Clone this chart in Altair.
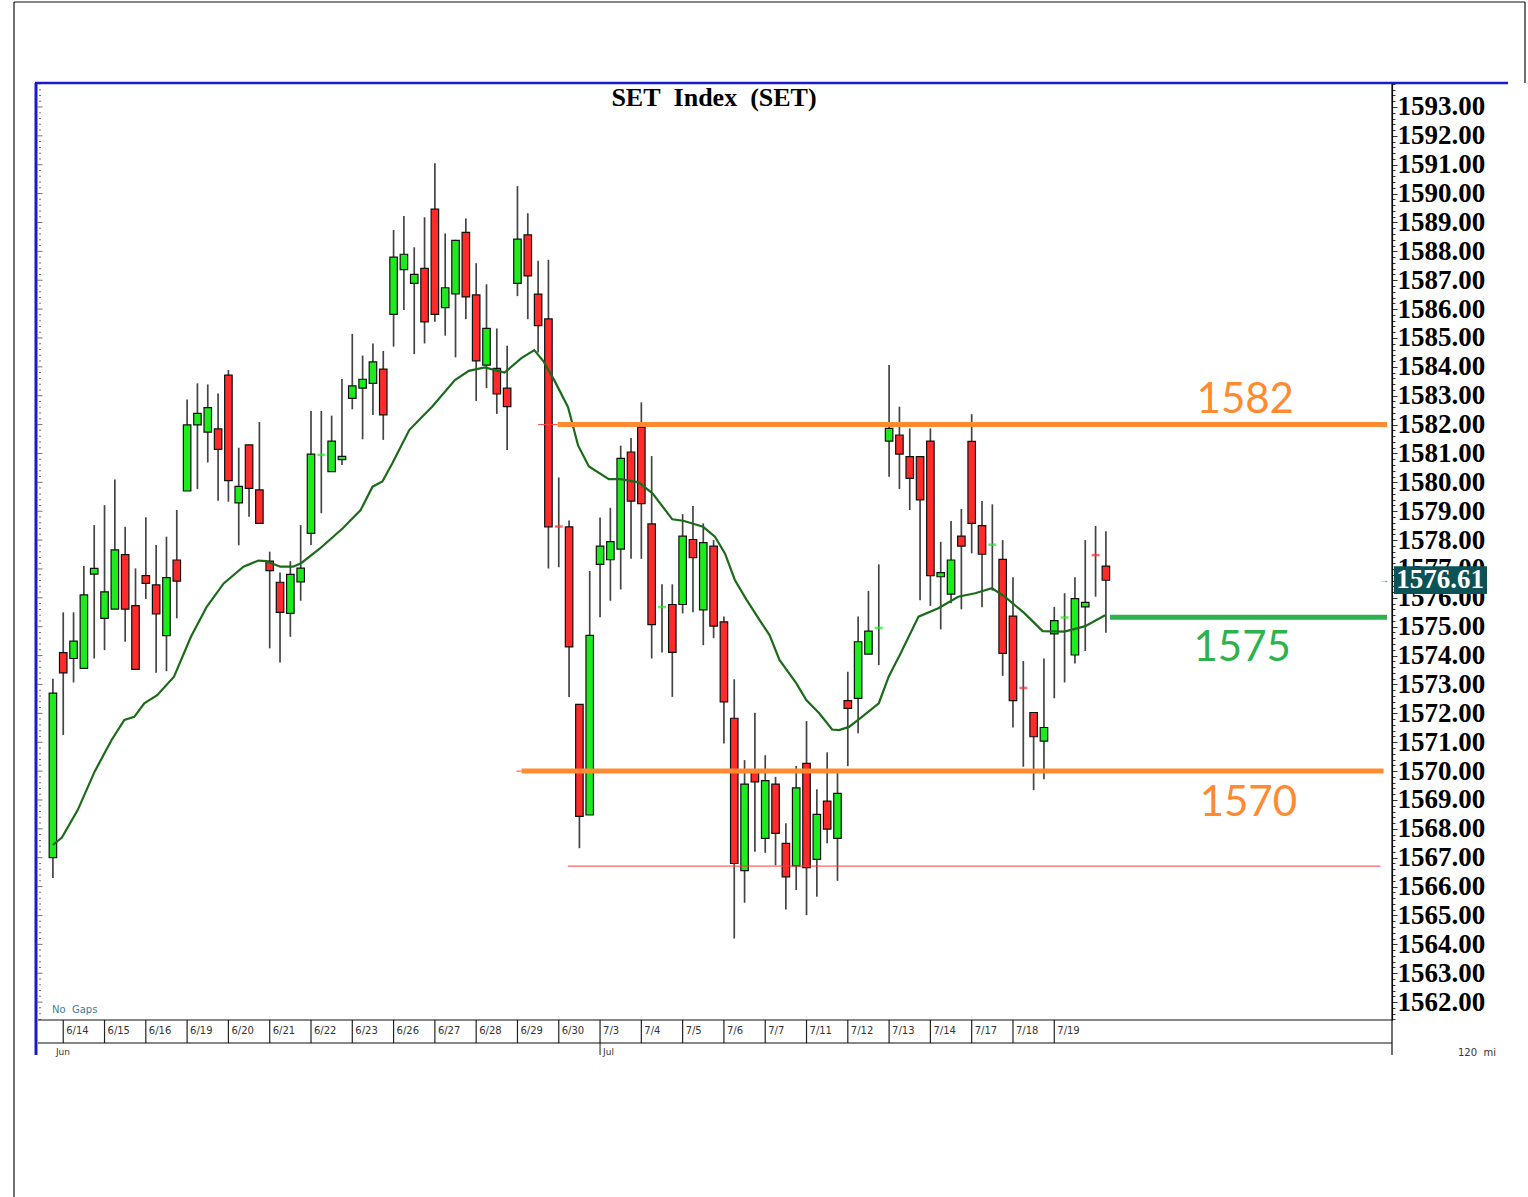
import altair as alt
import pandas as pd

# ---------------- data ----------------
opens = [1567.00, 1574.10, 1573.90, 1573.56, 1576.82, 1575.29, 1575.61, 1577.50, 1575.73, 1576.77,
         1576.45, 1574.69, 1577.31, 1579.70, 1581.99, 1581.74, 1581.85, 1583.71, 1579.29, 1581.30,
         1579.74, 1577.27, 1576.54, 1575.46, 1576.55, 1578.23, 1580.90, 1580.37, 1580.79, 1582.91,
         1583.26, 1583.43, 1583.92, 1585.82, 1587.37, 1586.89, 1587.41, 1589.46, 1586.05, 1586.53,
         1588.66, 1586.49, 1584.06, 1583.95, 1583.26, 1586.89, 1588.57, 1586.52, 1585.66, 1578.55,
         1578.46, 1572.31, 1568.48, 1577.16, 1577.32, 1577.69, 1581.05, 1581.90, 1578.56, 1575.64,
         1575.77, 1575.77, 1578.02, 1575.58, 1577.79, 1575.17, 1571.83, 1566.55, 1569.96, 1567.67,
         1569.55, 1567.50, 1566.72, 1570.27, 1566.94, 1568.96, 1567.67, 1572.44, 1572.52, 1574.05,
         1574.92, 1581.43, 1581.64, 1580.89, 1580.89, 1581.43, 1576.73, 1576.13, 1578.14, 1581.42,
         1578.50, 1577.80, 1577.33, 1575.37, 1572.92, 1572.03, 1571.04, 1574.75, 1575.28, 1574.02,
         1575.69, 1577.52, 1577.10]
highs = [1573.20, 1575.50, 1575.50, 1577.10, 1578.52, 1579.21, 1580.10, 1578.46, 1577.02, 1578.79,
         1577.83, 1578.12, 1579.04, 1582.87, 1583.43, 1583.39, 1583.08, 1583.89, 1581.20, 1581.30,
         1582.09, 1577.60, 1576.88, 1577.27, 1578.52, 1582.47, 1582.47, 1582.31, 1583.58, 1585.14,
         1584.39, 1584.81, 1584.55, 1588.74, 1589.22, 1588.14, 1589.18, 1591.05, 1588.62, 1588.40,
         1589.14, 1587.59, 1586.86, 1585.33, 1584.73, 1590.26, 1589.32, 1587.67, 1587.71, 1580.17,
         1578.68, 1572.31, 1576.93, 1578.78, 1579.12, 1581.27, 1581.54, 1582.77, 1580.91, 1576.47,
         1576.47, 1578.90, 1579.18, 1578.58, 1578.00, 1575.35, 1573.18, 1570.38, 1572.02, 1570.55,
         1569.80, 1568.19, 1570.18, 1571.73, 1569.37, 1570.65, 1569.98, 1573.44, 1575.35, 1576.24,
         1577.16, 1584.06, 1582.62, 1581.87, 1580.89, 1581.87, 1577.94, 1578.66, 1579.08, 1582.36,
         1579.35, 1579.24, 1578.00, 1576.71, 1573.81, 1572.03, 1573.90, 1575.69, 1576.16, 1576.71,
         1578.00, 1578.49, 1578.31]
lows = [1566.30, 1571.25, 1573.07, 1573.56, 1573.90, 1574.19, 1575.61, 1574.48, 1573.52, 1575.96,
        1573.41, 1573.46, 1575.29, 1579.70, 1579.77, 1580.69, 1579.36, 1579.33, 1577.82, 1578.81,
        1578.58, 1574.25, 1573.76, 1574.65, 1575.90, 1577.83, 1578.93, 1580.37, 1580.60, 1582.53,
        1581.49, 1582.33, 1581.47, 1584.70, 1585.97, 1584.44, 1584.81, 1585.56, 1585.08, 1584.33,
        1585.65, 1582.82, 1583.26, 1582.37, 1581.12, 1586.45, 1585.65, 1584.50, 1577.02, 1577.06,
        1572.57, 1567.33, 1568.48, 1575.33, 1575.90, 1576.29, 1577.35, 1577.35, 1573.90, 1574.11,
        1572.57, 1575.46, 1575.50, 1574.36, 1574.60, 1570.96, 1564.20, 1565.44, 1567.21, 1567.17,
        1566.74, 1565.21, 1565.88, 1565.01, 1565.65, 1567.50, 1566.20, 1570.17, 1571.31, 1574.05,
        1573.67, 1580.19, 1579.77, 1579.04, 1575.92, 1575.72, 1574.91, 1575.81, 1575.60, 1577.54,
        1575.67, 1576.25, 1573.30, 1571.51, 1570.15, 1569.34, 1569.72, 1572.52, 1573.07, 1573.73,
        1574.16, 1576.04, 1574.79]
closes = [1572.70, 1573.40, 1574.50, 1576.10, 1577.02, 1576.21, 1577.66, 1575.61, 1573.52, 1576.50,
          1575.44, 1576.70, 1576.58, 1581.99, 1582.39, 1582.59, 1581.14, 1580.06, 1579.86, 1579.79,
          1578.58, 1576.94, 1575.50, 1576.81, 1577.03, 1580.98, 1580.95, 1581.43, 1580.90, 1583.34,
          1583.57, 1584.17, 1582.34, 1587.80, 1587.90, 1587.20, 1585.56, 1585.82, 1586.74, 1588.38,
          1586.42, 1584.21, 1585.33, 1583.06, 1582.62, 1588.42, 1587.15, 1585.43, 1578.46, 1578.47,
          1574.30, 1568.43, 1574.70, 1577.79, 1577.95, 1580.83, 1579.35, 1579.26, 1575.07, 1575.68,
          1574.11, 1578.14, 1577.39, 1577.91, 1575.02, 1572.40, 1566.80, 1569.55, 1569.63, 1569.67,
          1567.84, 1566.34, 1569.42, 1566.66, 1568.50, 1567.99, 1569.23, 1572.17, 1574.48, 1574.85,
          1574.96, 1581.87, 1580.98, 1580.14, 1579.39, 1576.77, 1576.87, 1577.31, 1577.79, 1578.58,
          1577.51, 1577.84, 1574.08, 1572.44, 1572.88, 1571.19, 1571.51, 1575.21, 1575.32, 1575.97,
          1575.84, 1577.48, 1576.61]

# moving-average line (bar position, value)
ma_pos = [0.0, 0.87, 2.40, 4.04, 5.67, 6.92, 7.88, 8.85, 10.10, 11.73, 13.37, 14.90, 16.54, 18.46,
          19.90, 20.67, 22.02, 23.27, 24.04, 25.87, 28.08, 29.81, 30.96, 31.92, 32.88, 34.52, 35.77,
          36.73, 38.94, 40.29, 41.83, 43.75, 45.38, 46.63, 47.50, 48.56, 49.90, 50.38, 50.87, 51.92,
          53.85, 55.00, 56.73, 58.08, 60.00, 61.06, 62.98, 64.13, 65.10, 66.06, 67.21, 68.46, 69.42,
          70.38, 72.02, 72.98, 74.23, 75.48, 76.15, 77.12, 78.37, 80.00, 80.96, 82.12, 83.85, 85.77,
          87.69, 89.33, 90.96, 92.21, 94.13, 95.87, 97.98, 100.00, 101.92]
ma_val = [1567.44, 1567.70, 1568.65, 1569.98, 1571.07, 1571.77, 1571.88, 1572.35, 1572.63, 1573.27,
          1574.65, 1575.69, 1576.50, 1577.08, 1577.29, 1577.27, 1577.08, 1577.08, 1577.20, 1577.71,
          1578.41, 1579.04, 1579.85, 1580.03, 1580.66, 1581.81, 1582.27, 1582.62, 1583.54, 1583.86,
          1583.98, 1583.80, 1584.30, 1584.58, 1584.20, 1583.54, 1582.60, 1581.95, 1581.28, 1580.55,
          1580.11, 1580.11, 1580.00, 1579.62, 1578.72, 1578.67, 1578.46, 1578.12, 1577.54, 1576.62,
          1575.92, 1575.23, 1574.71, 1573.85, 1573.04, 1572.46, 1572.00, 1571.44, 1571.42, 1571.53,
          1571.88, 1572.35, 1573.27, 1574.08, 1575.35, 1575.64, 1576.04, 1576.16, 1576.33, 1576.04,
          1575.46, 1574.85, 1574.83, 1575.02, 1575.40]

day_labels = ["6/14", "6/15", "6/16", "6/19", "6/20", "6/21", "6/22", "6/23", "6/26", "6/27",
              "6/28", "6/29", "6/30", "7/3", "7/4", "7/5", "7/6", "7/7", "7/11", "7/12",
              "7/13", "7/14", "7/17", "7/18", "7/19"]
month_labels = ["Jun", "Jul"]
month_bar = [0, 53]

levels_orange = [1582.0, 1570.0]
level_green = 1575.33
level_red = 1566.71
last_price = 1576.61

# ---------------- chart ----------------
W, H = 1354, 937
ORANGE = "#FF8A30"
GREEN_LINE = "#2EB24E"
NB = "\u00a0"

xs = alt.Scale(domain=[-0.96, 129.23], nice=False, zero=False)
ys = alt.Scale(domain=[1561.38, 1593.83], nice=False, zero=False)

minor_vals = [round(1561.4 + 0.2 * k, 1) for k in range(163)]
is_major = "abs(datum.value - round(datum.value)) < 0.001"
yaxis = alt.Axis(
    orient="right", values=minor_vals, title=None, grid=False,
    labelExpr=f"{is_major} ? format(datum.value, '.2f') : ''",
    labelFont="Liberation Serif", labelFontWeight="bold", labelFontSize=27,
    labelColor="black", labelPadding=0, labelOverlap=False, labelFlush=False,
    tickColor="#333333", tickWidth=1,
    tickSize={"condition": {"test": is_major, "value": 5}, "value": 3},
    domainColor="black", domainWidth=1.2,
)

df = pd.DataFrame({"i": list(range(len(opens))), "o": opens, "h": highs, "l": lows, "c": closes})
df["dir"] = ["up" if c >= o else "down" for o, c in zip(opens, closes)]
df["doji"] = (df["c"] - df["o"]).abs() < 0.1
body_df = df[~df["doji"]]
doji_df = df[df["doji"]]

cscale = alt.Scale(domain=["up", "down"], range=["#1EEB1E", "#FF2B2B"])
X = lambda f: alt.X(f, scale=xs, axis=None)
Y = lambda f: alt.Y(f, scale=ys, axis=yaxis)

wick = alt.Chart(df).mark_rule(color="#444444", strokeWidth=1.7).encode(
    x=X("i:Q"), y=Y("l:Q"), y2="h:Q")
body = alt.Chart(body_df).mark_bar(size=7.5, stroke="#111111", strokeWidth=1.2).encode(
    x=X("i:Q"), y=Y("o:Q"), y2="c:Q",
    color=alt.Color("dir:N", scale=cscale, legend=None))
doji = alt.Chart(doji_df).mark_tick(orient="horizontal", size=8, thickness=2.5).encode(
    x=X("i:Q"), y=Y("c:Q"), color=alt.Color("dir:N", scale=cscale, legend=None))

ma = alt.Chart(pd.DataFrame({"p": ma_pos, "v": ma_val})).mark_line(
    color="#1B6B1B", strokeWidth=2.2).encode(x=X("p:Q"), y=Y("v:Q"))

or_df = pd.DataFrame({"v": levels_orange, "x1": [48.9, 45.4], "x2": [129.23, 128.9]})
orange = alt.Chart(or_df).mark_rule(color=ORANGE, strokeWidth=5).encode(
    x=X("x1:Q"), x2="x2:Q", y=Y("v:Q"))
red_stub = alt.Chart(pd.DataFrame({"v": levels_orange, "x1": [47.0, 44.9], "x2": [48.9, 45.4]})).mark_rule(
    color="#FF4040", strokeWidth=1).encode(x=X("x1:Q"), x2="x2:Q", y=Y("v:Q"))
green = alt.Chart(pd.DataFrame({"v": [level_green], "x1": [102.4], "x2": [129.23]})).mark_rule(
    color=GREEN_LINE, strokeWidth=5).encode(x=X("x1:Q"), x2="x2:Q", y=Y("v:Q"))
redline = alt.Chart(pd.DataFrame({"v": [level_red], "x1": [49.9], "x2": [128.6]})).mark_rule(
    color="#FF3B3B", strokeWidth=1).encode(x=X("x1:Q"), x2="x2:Q", y=Y("v:Q"))

lab_df = pd.DataFrame({
    "t": ["1582", "1570", "1575"],
    "x": [115.5, 115.8, 115.2],
    "v": [1582.85, 1568.9, 1574.26],
    "col": [ORANGE, ORANGE, GREEN_LINE]})
labels = alt.Chart(lab_df).mark_text(font="Lato", fontSize=42, align="center", baseline="middle").encode(
    x=X("x:Q"), y=Y("v:Q"), text="t:N", color=alt.Color("col:N", scale=None))

title = alt.Chart(pd.DataFrame({"t": [f"SET{NB}{NB}Index{NB}{NB}(SET)"]})).mark_text(
    font="Liberation Serif", fontWeight="bold", fontSize=26, align="center", baseline="middle",
    color="black").encode(x=alt.value(676), y=alt.value(15), text="t:N")

# last-price badge
badge_df = pd.DataFrame({"v": [last_price], "lo": [last_price - 0.48], "hi": [last_price + 0.48],
                         "t": [f"{last_price:.2f}"]})
badge_box = alt.Chart(badge_df).mark_rect(color="#0B5356").encode(
    x=alt.value(1356), x2=alt.value(1449), y=Y("lo:Q"), y2="hi:Q")
badge_txt = alt.Chart(badge_df).mark_text(
    font="Liberation Serif", fontWeight="bold", fontSize=27, color="white", align="center",
    baseline="middle").encode(x=alt.value(1402), y=Y("v:Q"), text="t:N")
badge_arrow = alt.Chart(badge_df).mark_text(fontSize=10, color="#1F6F6F", align="center",
                                             baseline="middle").encode(
    x=alt.value(1346), y=Y("v:Q"), text=alt.value("→"))

# left inner ticks
lt_df = pd.DataFrame({"v": minor_vals,
                      "len": [5 if abs(v - round(v)) < 0.001 else 2 for v in minor_vals]})
left_ticks = alt.Chart(lt_df).mark_tick(orient="horizontal", color="#333333", thickness=1).encode(
    x=alt.value(2), y=Y("v:Q"), size=alt.Size("len:Q", scale=None, legend=None))

# date row
day_df = pd.DataFrame({"p": [1 + 4 * k for k in range(len(day_labels))], "t": day_labels})
day_sep = alt.Chart(day_df).mark_rule(color="#222222", strokeWidth=1.2).encode(
    x=X("p:Q"), y=alt.value(937), y2=alt.value(960))
day_txt = alt.Chart(day_df).mark_text(font="DejaVu Sans", fontSize=10, align="left", baseline="middle",
                                      dx=3, color="#333333").encode(
    x=X("p:Q"), y=alt.value(948), text="t:N")
mon_df = pd.DataFrame({"p": month_bar, "t": month_labels})
mon_txt = alt.Chart(mon_df).mark_text(font="DejaVu Sans", fontSize=9, align="left", baseline="middle",
                                      dx=3, color="#333333").encode(
    x=X("p:Q"), y=alt.value(969), text="t:N")
mon_sep = alt.Chart(mon_df[mon_df["p"] > 0]).mark_rule(color="#222222").encode(
    x=X("p:Q"), y=alt.value(960), y2=alt.value(972))


def hrule(x1, x2, y, color="black", w=1.0):
    return alt.Chart(pd.DataFrame({"a": [0]})).mark_rule(color=color, strokeWidth=w).encode(
        x=alt.value(x1), x2=alt.value(x2), y=alt.value(y))


def vrule(x, y1, y2, color="black", w=1.0):
    return alt.Chart(pd.DataFrame({"a": [0]})).mark_rule(color=color, strokeWidth=w).encode(
        x=alt.value(x), y=alt.value(y1), y2=alt.value(y2))


frame = [
    hrule(0, W, 937, "#111111", 1.2),
    hrule(0, W, 960, "#111111", 1.2),
    vrule(W, 0, 972, "#111111", 1.2),
    hrule(-3, 1470, 0, "#1A1AC8", 2.5),
    vrule(-2, 0, 972, "#1A1AC8", 3),
    hrule(-24, 1487, -81, "#111111", 1.2),
    vrule(-24, -81, 1114, "#111111", 1.2),
    vrule(1487, -81, 0, "#111111", 1.2),
]


def note(text, x, y, size, color, align="left"):
    return alt.Chart(pd.DataFrame({"t": [text]})).mark_text(
        font="DejaVu Sans", fontSize=size, color=color, align=align, baseline="middle").encode(
        x=alt.value(x), y=alt.value(y), text="t:N")


notes = [note(f"No{NB}{NB}Gaps", 14, 927, 10, "#3B7E9C"), note(f"120{NB}{NB}mi", 1420, 970, 10, "#333333")]

chart = alt.layer(
    wick, body, doji, ma, redline, red_stub, orange, green, labels, title,
    left_ticks, badge_box, badge_txt, badge_arrow,
    day_sep, day_txt, mon_txt, mon_sep, *frame, *notes,
).properties(
    width=W, height=H,
    autosize=alt.AutoSizeParams(type="none"),
    padding={"left": 38, "top": 83, "right": 136, "bottom": 177},
    background="white",
).configure_view(stroke=None)

chart.save("out.html", embed_options={"renderer": "svg", "actions": False})
